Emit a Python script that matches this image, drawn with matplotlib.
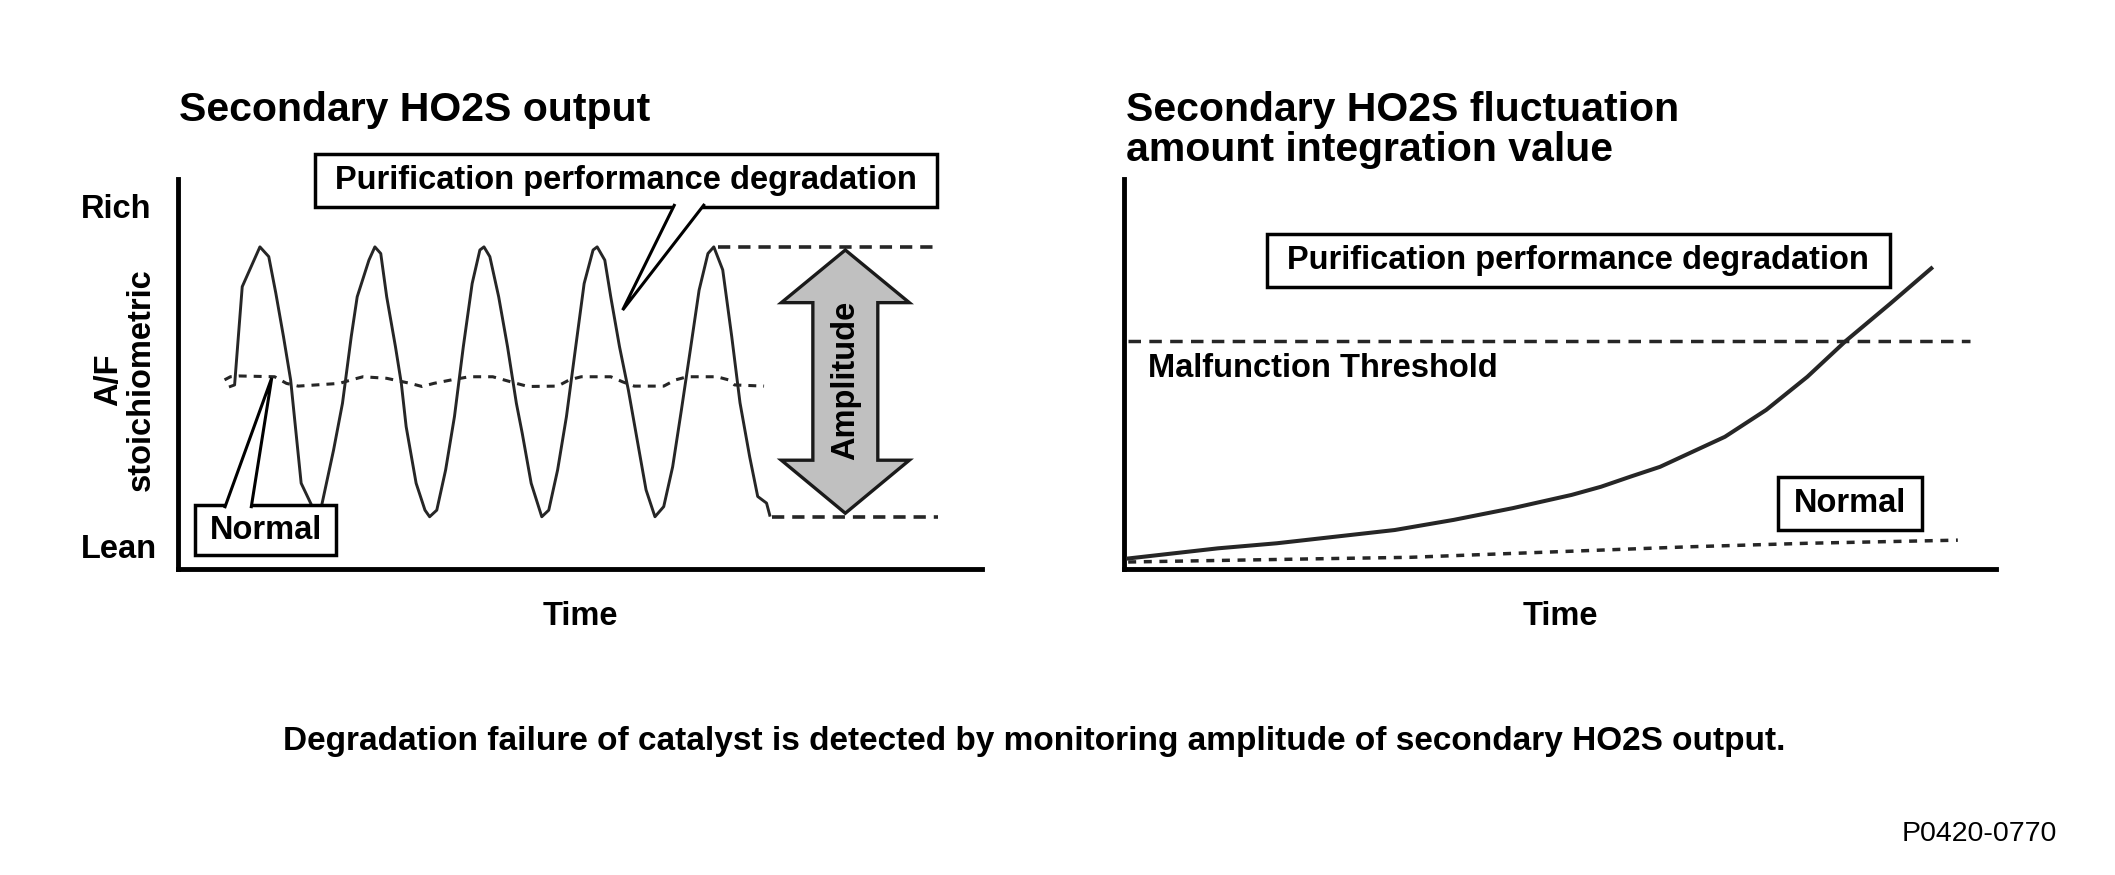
import numpy as np
import matplotlib.pyplot as plt
from matplotlib.patches import Polygon, Rectangle

plt.rcParams['font.family'] = ['Liberation Sans', 'DejaVu Sans']

# left panel: secondary HO2S output (time 0-100, lean 0 .. rich 10)
wave_t = [6.5, 7.03, 7.98, 9.08, 10.18, 11.28, 12.16, 13.11, 14.0, 15.31, 16.6, 17.1,
          17.87, 19.34, 20.45, 21.54, 22.28, 23.74, 24.48, 25.21, 25.95, 27.04, 27.77, 28.37, 29.61, 30.71, 31.29,
          32.18, 33.28, 34.38, 35.48, 36.58, 37.54, 38.05, 38.78, 39.88, 40.98, 42.08, 42.81, 43.92, 45.24,
          46.11, 47.21, 48.31, 49.41, 50.51, 51.62, 52.13, 53.08, 53.82, 54.91, 56.01, 57.11, 58.21, 59.32,
          60.41, 61.52, 62.61, 63.72, 64.81, 65.91, 66.64, 67.75, 68.87, 69.9, 71.1, 72.1, 73.2, 73.6]
wave_v = [4.68, 4.72, 7.24, 7.75, 8.26, 8.01, 7.07, 5.96, 4.85, 2.20, 1.64, 1.34,
          1.64, 3.05, 4.25, 5.96, 6.98, 7.92, 8.26, 8.09, 6.98, 5.70, 4.76, 3.65, 2.20, 1.51, 1.34,
          1.51, 2.54, 3.91, 5.70, 7.32, 8.18, 8.26, 8.01, 6.98, 5.70, 4.25, 3.48, 2.20, 1.34,
          1.51, 2.54, 3.91, 5.62, 7.32, 8.18, 8.26, 7.92, 6.98, 5.70, 4.59, 3.31, 2.03, 1.34,
          1.60, 2.62, 4.08, 5.62, 7.15, 8.09, 8.26, 7.67, 5.96, 4.26, 2.88, 1.86, 1.69, 1.38]

normal_t = [5.78, 6.51, 7.61, 12.01, 13.48, 14.95, 20.08, 21.54, 23.01, 25.95, 28.88, 30.35,
            31.81, 34.02, 36.22, 39.14, 42.08, 43.54, 47.21, 48.68, 50.15, 53.82, 55.29, 56.75,
            60.41, 61.88, 63.35, 67.01, 68.48, 69.22, 72.89]
normal_v = [4.85, 4.93, 4.95, 4.93, 4.76, 4.69, 4.76, 4.85, 4.93, 4.89, 4.76, 4.68,
            4.76, 4.85, 4.93, 4.93, 4.76, 4.68, 4.69, 4.85, 4.93, 4.93, 4.80, 4.69,
            4.69, 4.85, 4.93, 4.93, 4.85, 4.72, 4.69]

amp_hi = 8.25
amp_lo = 1.33
rich_v = 9.23
lean_v = 0.49

# right panel: fluctuation amount integration value
deg_t = [0.49, 10.77, 17.53, 24.29, 31.06, 37.82, 44.58, 51.34, 54.72, 58.11, 61.48,
         64.86, 68.92, 73.66, 78.38, 82.79, 87.86, 92.59]
deg_v = [0.27, 0.53, 0.66, 0.83, 1.0, 1.26, 1.56, 1.90, 2.11, 2.37, 2.62,
         2.97, 3.39, 4.08, 4.93, 5.85, 6.80, 7.71]

norm2_t = [0.49, 24.29, 32.8, 44.58, 64.86, 78.38, 95.63]
norm2_v = [0.18, 0.27, 0.30, 0.40, 0.57, 0.66, 0.74]

threshold = 5.84

LINE = '#262626'
FS = 23.5

fig = plt.figure(figsize=(21.15, 8.75), dpi=100)

ax1 = fig.add_axes([0.0842, 0.3497, 0.3801, 0.4457])
ax2 = fig.add_axes([0.5314, 0.3497, 0.4123, 0.4457])

for ax in (ax1, ax2):
    ax.set_xlim(0, 100)
    ax.set_ylim(0, 10)
    ax.set_xticks([])
    ax.set_yticks([])
    for s in ('top', 'right'):
        ax.spines[s].set_visible(False)
    for s in ('left', 'bottom'):
        ax.spines[s].set_linewidth(3.5)
        ax.spines[s].set_color('black')
    ax.text(0.5, -0.1205, 'Time', transform=ax.transAxes, ha='center', va='center',
            fontsize=FS, fontweight='bold')


def box(ax, x0, x1, y0, y1, text, xc, yc):
    ax.add_patch(Rectangle((x0, y0), x1 - x0, y1 - y0, facecolor='white',
                           edgecolor='black', lw=2.5, zorder=6, clip_on=False))
    ax.text(xc, yc, text, ha='center', va='center', fontsize=FS,
            fontweight='bold', zorder=8, clip_on=False)


def pointer(ax, pts):
    ax.add_patch(Polygon(pts, closed=False, facecolor='white', edgecolor='black',
                         lw=2.2, zorder=7, clip_on=False))


### LEFT ###
ax1.plot(normal_t, normal_v, color=LINE, lw=2.2, linestyle=(0, (2.6, 2.3)), zorder=3)
ax1.plot(wave_t, wave_v, color=LINE, lw=2.1, zorder=4)

ax1.plot([67.2, 94.4], [amp_hi, amp_hi], color=LINE, lw=2.6, linestyle=(0, (3.4, 2.2)))
ax1.plot([73.9, 94.5], [amp_lo, amp_lo], color=LINE, lw=2.6, linestyle=(0, (3.4, 2.2)))

# double arrow
cx = 83.0
arrow = [(cx, 8.18), (cx + 7.96, 6.83), (cx + 4.04, 6.83), (cx + 4.04, 2.79),
         (cx + 7.96, 2.79), (cx, 1.43), (cx - 7.96, 2.79), (cx - 4.04, 2.79),
         (cx - 4.04, 6.83), (cx - 7.96, 6.83)]
ax1.add_patch(Polygon(arrow, closed=True, facecolor='#c0c0c0', edgecolor='#1a1a1a',
                      lw=2.4, joinstyle='miter', zorder=5))
ax1.text(cx, 4.83, 'Amplitude', rotation=90, ha='center', va='center',
         fontsize=FS, fontweight='bold', zorder=6)

box(ax1, 17.0, 94.4, 9.27, 10.64, 'Purification performance degradation', 55.7, 9.955)
pointer(ax1, [(61.8, 9.36), (55.3, 6.64), (65.5, 9.36)])

box(ax1, 2.1, 19.65, 0.36, 1.64, 'Normal', 10.9, 1.0)
pointer(ax1, [(5.78, 1.56), (11.65, 4.9), (9.08, 1.56)])

ax1.text(-12.06, rich_v, 'Rich', ha='left', va='center', fontsize=FS,
         fontweight='bold', clip_on=False)
ax1.text(-12.06, lean_v, 'Lean', ha='left', va='center', fontsize=FS,
         fontweight='bold', clip_on=False)
ax1.text(-6.6, 4.85, 'A/F\nstoichiometric', rotation=90, ha='center', va='center',
         multialignment='center', linespacing=1.08, fontsize=FS,
         fontweight='bold', clip_on=False)

### RIGHT ###
ax2.plot([0.46, 97.0], [threshold, threshold], color=LINE, lw=2.5, linestyle=(0, (3.6, 2.4)))
ax2.text(2.75, 4.93, 'Malfunction Threshold', ha='left', va='baseline',
         fontsize=FS, fontweight='bold')
ax2.plot(deg_t, deg_v, color=LINE, lw=2.9, zorder=4)
ax2.plot(norm2_t, norm2_v, color=LINE, lw=2.5, linestyle=(0, (2.3, 2.2)), zorder=3)

box(ax2, 16.4, 87.8, 7.23, 8.59, 'Purification performance degradation', 52.1, 7.91)
box(ax2, 75.0, 91.5, 1.0, 2.36, 'Normal', 83.25, 1.68)

# titles and notes
fig.text(0.0846, 0.8617, 'Secondary HO2S output', ha='left', va='baseline',
         fontsize=29.5, fontweight='bold')
fig.text(0.5324, 0.8617, 'Secondary HO2S fluctuation', ha='left', va='baseline',
         fontsize=29.5, fontweight='bold')
fig.text(0.5324, 0.8160, 'amount integration value', ha='left', va='baseline',
         fontsize=29.5, fontweight='bold')
fig.text(0.4891, 0.1531,
         'Degradation failure of catalyst is detected by monitoring amplitude of secondary HO2S output.',
         ha='center', va='center', fontsize=24, fontweight='bold')
fig.text(0.9726, 0.0469, 'P0420-0770', ha='right', va='center', fontsize=20.5)

plt.savefig('out.png', dpi=100, facecolor='white')
